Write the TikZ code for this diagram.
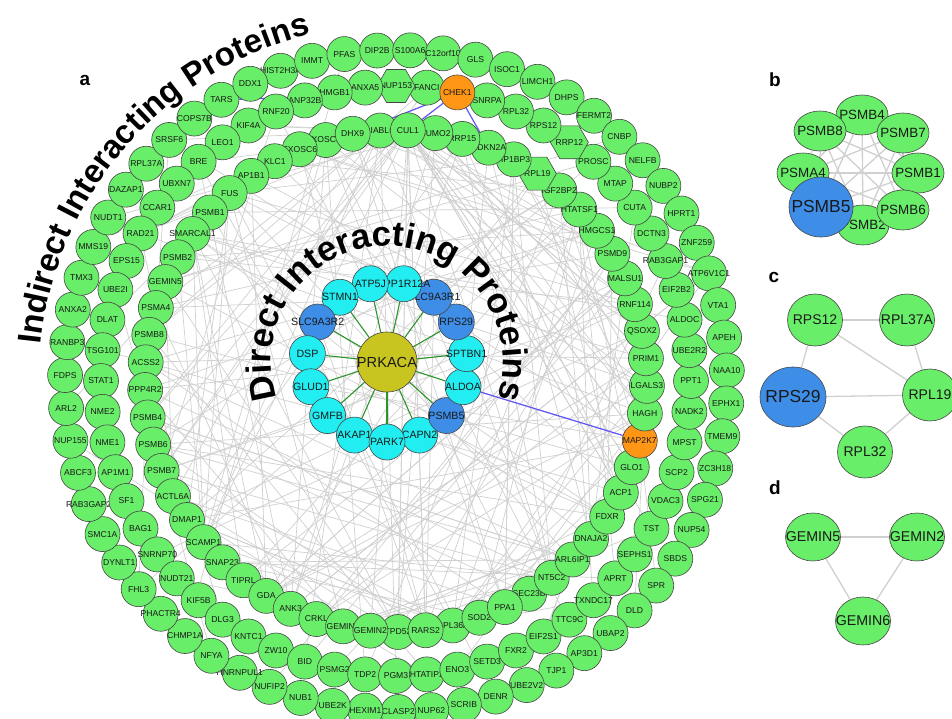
\documentclass[tikz,border=0pt]{standalone}
\usepackage{fontspec}
\setmainfont{Liberation Sans}
\usetikzlibrary{shapes.geometric,decorations.text}

\pgfdeclarelayer{bg}
\pgfdeclarelayer{edges}
\pgfdeclarelayer{links}
\pgfsetlayers{bg,edges,links,main}

\definecolor{ringgreen}{RGB}{104,238,104}
\definecolor{nodeline}{RGB}{70,70,70}
\definecolor{edgegray}{RGB}{208,208,208}
\definecolor{directcyan}{RGB}{34,238,242}
\definecolor{directblue}{RGB}{62,142,232}
\definecolor{hubolive}{RGB}{200,196,32}
\definecolor{hitorange}{RGB}{255,150,22}
\definecolor{hubgreen}{RGB}{42,150,42}
\definecolor{bluelink}{RGB}{96,86,245}
\definecolor{labelink}{RGB}{25,25,25}

\tikzset{
  ringnode/.style={circle, draw=nodeline, line width=0.6pt, fill=ringgreen,
    minimum size=35pt, inner sep=0pt},
  ringtext/.style={font=\fontsize{8.6}{9}\selectfont, text=labelink, inner sep=0pt},
  hexshape/.style={regular polygon, regular polygon sides=6, minimum size=38pt},
  mx5/.style={hexshape}, mx11/.style={hexshape}, mx7/.style={fill=hitorange},
  nx6/.style={hexshape}, nx17/.style={fill=hitorange},
  directnode/.style={circle, draw=nodeline, line width=0.6pt, minimum size=36pt, inner sep=0pt},
  directtext/.style={font=\fontsize{10.6}{11}\selectfont, text=labelink, inner sep=0pt},
  hubnode/.style={circle, draw=nodeline, line width=0.6pt, fill=hubolive, minimum size=60pt, inner sep=0pt},
  hubtext/.style={font=\fontsize{14.6}{15}\selectfont, text=labelink, inner sep=0pt},
  panelnode/.style={ellipse, draw=nodeline, line width=0.6pt, fill=ringgreen, inner sep=0pt},
  paneltext/.style={font=\fontsize{13.4}{14}\selectfont, text=labelink, inner sep=0pt},
  bigtext/.style={font=\fontsize{17.4}{18}\selectfont, text=labelink, inner sep=0pt},
  panelletter/.style={font=\fontsize{19}{19}\selectfont\bfseries, inner sep=0pt},
  graylink/.style={draw=edgegray, line width=0.7pt},
  panellink/.style={draw=edgegray, line width=1.3pt},
  hubedge/.style={draw=hubgreen, line width=1.1pt},
  blueedge/.style={draw=bluelink, line width=1.2pt},
}

\begin{document}
\begin{tikzpicture}[x=1pt,y=-1pt]
\useasboundingbox (0,0) rectangle (952,719);
\begin{pgfonlayer}{bg}
  \fill[white] (0,0) rectangle (952,719);
\end{pgfonlayer}

% ---------- outer ring of indirect partners ----------
\foreach \i/\nm in {1/HIST2H3A, 2/IMMT, 3/PFAS, 4/DIP2B, 5/S100A6, 6/C12orf10, 7/GLS,
  8/ISOC1, 9/LIMCH1, 10/DHPS, 11/FERMT2, 12/CNBP, 13/NELFB, 14/NUBP2, 15/HPRT1,
  16/ZNF259, 17/ATP6V1C1, 18/VTA1, 19/APEH, 20/NAA10, 21/EPHX1, 22/TMEM9, 23/ZC3H18,
  24/SPG21, 25/NUP54, 26/SBDS, 27/SPR, 28/DLD, 29/UBAP2, 30/AP3D1, 31/TJP1, 32/UBE2V2,
  33/DENR, 34/SCRIB, 35/NUP62, 36/CLASP2, 37/HEXIM1, 38/UBE2K, 39/NUB1, 40/NUFIP2,
  41/HNRNPUL1, 42/NFYA, 43/CHMP1A, 44/PHACTR4, 45/FHL3, 46/DYNLT1, 47/SMC1A,
  48/RAB3GAP2, 49/ABCF3, 50/NUP155, 51/ARL2, 52/FDPS, 53/RANBP3, 54/ANXA2, 55/TMX3,
  56/MMS19, 57/NUDT1, 58/DAZAP1, 59/RPL37A, 60/SRSF6, 61/COPS7B, 62/TARS, 63/DDX1}{
  \pgfmathsetmacro{\ang}{249.6+(\i-1)*5.714286}
  \node[ringnode] (o\i) at ({396+331*cos(\ang)},{381+331*sin(\ang)}) {};
  \node[ringtext] at (o\i) {\nm};
}

% ---------- middle ring ----------
\foreach \i/\nm in {60/KIF4A, 59/LEO1, 58/BRE, 57/UBXN7, 56/CCAR1, 55/RAD21, 54/EPS15,
  53/UBE2I, 52/DLAT, 51/TSG101, 50/STAT1, 49/NME2, 48/NME1, 47/AP1M1, 46/SF1, 45/BAG1,
  44/SNRNP70, 43/NUDT21, 42/KIF5B, 41/DLG3, 40/KNTC1, 39/ZW10, 38/BID, 37/PSMG2,
  36/TDP2, 35/PGM3, 34/HTATIP2, 33/ENO3, 32/SETD3, 31/FXR2, 30/EIF2S1, 29/TTC9C,
  28/TXNDC17, 27/APRT, 26/SEPHS1, 25/TST, 24/VDAC3, 23/SCP2, 22/MPST, 21/NADK2,
  20/PPT1, 19/UBE2R2, 18/ALDOC, 17/EIF2B2, 16/RAB3GAP1, 15/DCTN3, 14/CUTA, 13/MTAP,
  12/PROSC, 11/RRP12, 10/RPS12, 9/RPL32, 8/SNRPA, 6/FANCI, 5/NUP153, 4/ANXA5,
  3/HMGB1, 2/ANP32B, 1/RNF20, 7/CHEK1}{
  \pgfmathsetmacro{\ang}{246+(\i-1)*6}
  \node[ringnode, mx\i/.try] (m\i) at ({396+295*cos(\ang)},{381+295*sin(\ang)}) {};
  \node[ringtext] at (m\i) {\nm};
}

% ---------- inner ring ----------
\foreach \i/\nm in {57/DIABLO, 55/EXOSC10, 56/DHX9, 54/EXOSC6, 53/KLC1, 52/AP1B1,
  51/FUS, 50/PSMB1, 49/SMARCAL1, 48/PSMB2, 47/GEMIN5, 46/PSMA4, 45/PSMB8, 44/ACSS2,
  43/PPP4R2, 42/PSMB4, 41/PSMB6, 40/PSMB7, 39/ACTL6A, 38/DMAP1, 37/SCAMP1, 36/SNAP23,
  35/TIPRL, 34/GDA, 33/ANK3, 32/CRKL, 31/GEMIN6, 29/TPD52, 30/GEMIN2, 27/RPL36A,
  28/RARS2, 26/SOD2, 24/SEC23B, 25/PPA1, 23/NT5C2, 22/ARL6IP1, 21/DNAJA2, 20/FDXR,
  19/ACP1, 18/GLO1, 17/MAP2K7, 16/HAGH, 15/LGALS3, 14/PRIM1, 13/QSOX2, 12/RNF114,
  11/MALSU1, 10/PSMD9, 9/HMGCS1, 8/HTATSF1, 7/IGF2BP2, 6/RPL19, 5/HP1BP3, 4/CDKN2A,
  3/RRP15, 2/SUMO2, 1/CUL1}{
  \pgfmathsetmacro{\ang}{272.7+(\i-1)*6.315789}
  \node[ringnode, nx\i/.try] (n\i) at ({396+251*cos(\ang)},{381+251*sin(\ang)}) {};
  \node[ringtext] at (n\i) {\nm};
}

% ---------- direct interactors around PRKACA ----------
\node[hubnode] (hub) at (387,362) {};
\node[hubtext] at (hub) {PRKACA};
\foreach \j/\ang/\nm/\col in {8/66/CAPN2/directcyan, 7/42/PSMB5/directblue,
  6/18/ALDOA/directcyan, 5/354/SPTBN1/directcyan, 4/330/RPS29/directblue,
  3/306/SLC9A3R1/directblue, 2/282/PPP1R12A/directcyan, 1/258/ATP5J/directcyan,
  15/234/STMN1/directcyan, 14/210/SLC9A3R2/directblue, 13/186/DSP/directcyan,
  12/162/GLUD1/directcyan, 11/138/GMFB/directcyan, 10/114/AKAP1/directcyan,
  9/90/PARK7/directcyan}{
  \node[directnode, fill=\col] (d\j) at ({387+80*cos(\ang)},{362+80*sin(\ang)}) {};
  \node[directtext] at (d\j) {\nm};
}

% ---------- interaction network behind the rings ----------
\begin{pgfonlayer}{edges}
  \pgfmathsetseed{4242}
  \foreach \k in {1,...,115}{
    \pgfmathrandominteger{\a}{1}{57}
    \pgfmathrandominteger{\s}{8}{49}
    \pgfmathtruncatemacro{\b}{mod(\a+\s-1,57)+1}
    \draw[graylink] (n\a) -- (n\b);
  }
  \foreach \k in {1,...,20}{
    \pgfmathrandominteger{\s}{9}{48}
    \pgfmathtruncatemacro{\b}{\s}
    \draw[graylink] (n1) -- (n\b);
  }
  \foreach \k in {1,...,45}{
    \pgfmathrandominteger{\a}{1}{60}
    \pgfmathrandominteger{\b}{1}{57}
    \draw[graylink] (m\a) -- (n\b);
  }
  \foreach \k in {1,...,22}{
    \pgfmathrandominteger{\a}{1}{63}
    \pgfmathrandominteger{\b}{1}{57}
    \draw[graylink] (o\a) -- (n\b);
  }
  \foreach \k in {1,...,18}{
    \pgfmathrandominteger{\a}{1}{15}
    \pgfmathrandominteger{\b}{1}{57}
    \draw[graylink] (d\a) -- (n\b);
  }
\end{pgfonlayer}

\begin{pgfonlayer}{links}
  \foreach \j in {1,...,15}{\draw[hubedge] (hub) -- (d\j);}
  \draw[blueedge] (d6) -- (n17);
  \draw[blueedge] (m7) -- (n1);
  \draw[blueedge] (m7) -- (n56);
  \draw[blueedge] (m7) -- (n4);
  \draw[blueedge] (m7) -- (o62);
\end{pgfonlayer}

% ---------- curved titles ----------
\path[decorate, decoration={text along path, text align=center,
  text={|\fontsize{33}{33}\selectfont\bfseries|Indirect Interacting Proteins}}]
  ([shift={(180:357)}]396,381) arc[start angle=180, end angle=262, radius=357];
\path[decorate, decoration={text along path, text align=center,
  text={|\fontsize{35}{35}\selectfont\bfseries|Direct Interacting Proteins}}]
  ([shift={(150:116)}]387,362) arc[start angle=150, end angle=390, radius=116];

\node[panelletter] (lbla) at (85,80) {a};

% ---------- panel b: proteasome cluster ----------
\foreach \k/\px/\py/\nm in {5/863/225/PSMB2, 3/918/173/PSMB1, 4/903/210/PSMB6,
  7/803/173/PSMA4, 1/862/115/PSMB4, 8/820/131/PSMB8, 2/903/133/PSMB7}{
  \node[panelnode, minimum width=52pt, minimum height=40pt] (b\k) at (\px,\py) {};
  \node[paneltext] at (b\k) {\nm};
}
\node[panelnode, fill=directblue, minimum width=64pt, minimum height=60pt] (b6) at (821,207) {};
\node[bigtext] at (b6) {PSMB5};
\begin{pgfonlayer}{edges}
  \foreach \i in {1,...,7}{
    \pgfmathtruncatemacro{\nx}{\i+1}
    \foreach \j in {\nx,...,8}{\draw[panellink] (b\i) -- (b\j);}
  }
\end{pgfonlayer}
\node[panelletter] (lblb) at (775,80) {b};

% ---------- panel c: ribosomal cluster ----------
\node[panelletter] (lblc) at (774,277) {c};
\foreach \k/\px/\py/\nm in {1/815/320/RPS12, 2/907/320/RPL37A, 3/930/395/RPL19, 4/865/452/RPL32}{
  \node[panelnode, minimum width=55pt, minimum height=52pt] (c\k) at (\px,\py) {};
  \node[paneltext, font=\fontsize{14}{14}\selectfont] at (c\k) {\nm};
}
\node[panelnode, fill=directblue, minimum width=66pt, minimum height=60pt] (c5) at (793,397) {};
\node[bigtext] at (c5) {RPS29};
\begin{pgfonlayer}{edges}
  \draw[panellink] (c1) -- (c2);
  \draw[panellink] (c1) -- (c5);
  \draw[panellink] (c1) -- (c3);
  \draw[panellink] (c2) -- (c3);
  \draw[panellink] (c5) -- (c3);
  \draw[panellink] (c5) -- (c4);
  \draw[panellink] (c4) -- (c3);
\end{pgfonlayer}

% ---------- panel d: gemin cluster ----------
\node[panelletter] (lbld) at (775,488) {d};
\foreach \k/\px/\py/\nm in {1/813/537/GEMIN5, 2/917/537/GEMIN2, 3/863/621/GEMIN6}{
  \node[panelnode, minimum width=55pt, minimum height=48pt] (e\k) at (\px,\py) {};
  \node[paneltext, font=\fontsize{14.2}{14}\selectfont] at (e\k) {\nm};
}
\begin{pgfonlayer}{edges}
  \draw[panellink] (e1) -- (e2);
  \draw[panellink] (e1) -- (e3);
  \draw[panellink] (e2) -- (e3);
\end{pgfonlayer}
\end{tikzpicture}
\end{document}
